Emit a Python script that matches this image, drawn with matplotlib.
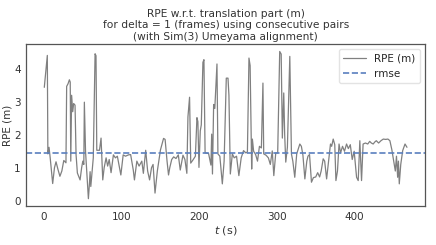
import numpy as np
import matplotlib
matplotlib.use("Agg")
import matplotlib.pyplot as plt
import seaborn as sns

# RPE trace
t_s = [0.4, 4.3, 5.0, 6.5, 8.0, 11.2, 13.5, 15.5, 18.0, 20.5, 23.0, 25.5, 28.3,
       29.2, 31.0, 32.7, 33.8, 34.5, 35.6, 37.0, 38.2, 40.0, 41.3, 43.0, 46.5,
       48.5, 50.0, 51.3, 52.0, 53.5, 55.0, 57.2, 58.5, 59.4, 60.3, 62.0, 63.5,
       65.8, 67.0, 68.0, 71.5, 73.5, 75.7, 77.5, 80.0, 82.0, 84.0, 86.4, 89.4,
       92.0, 94.5, 97.0, 99.0, 102.0, 105.0, 108.8, 111.6, 115.0, 116.5, 119.6,
       122.5, 126.0, 128.0, 131.0, 133.5, 136.0, 138.5, 140.5, 143.0, 146.0,
       150.0, 154.0, 156.0, 158.5, 160.4, 162.0, 164.5, 167.0, 170.0, 173.0,
       175.5, 179.0, 181.5, 184.0, 185.4, 187.5, 189.0, 192.0, 195.0, 197.0,
       198.2, 199.6, 201.3, 202.6, 204.7, 206.0, 207.5, 212.0, 215.0, 216.0,
       217.0, 218.5, 220.0, 222.8, 224.0, 226.5, 229.7, 232.0, 234.8, 237.0,
       238.2, 240.0, 242.6, 245.0, 248.0, 251.0, 254.0, 257.0, 260.0, 262.0,
       264.0, 265.5, 267.5, 268.4, 270.0, 272.6, 275.0, 277.5, 280.0, 282.0,
       283.0, 286.0, 289.0, 291.5, 294.0, 296.0, 298.5, 301.0, 303.6, 305.5,
       307.0, 308.8, 310.0, 311.4, 313.5, 316.6, 318.7, 320.5, 323.0, 325.5,
       329.5, 331.5, 333.5, 336.0, 338.5, 340.0, 342.0, 344.5, 347.0, 350.0,
       352.5, 355.0, 357.0, 359.6, 361.5, 364.0, 366.5, 369.0, 370.5, 372.5,
       374.5, 376.0, 378.0, 380.0, 382.0, 384.5, 387.0, 389.7, 392.0, 394.5,
       397.0, 399.5, 402.6, 404.7, 406.8, 409.0, 411.0, 414.0, 417.0, 419.5,
       421.6, 424.0, 426.0, 428.0, 431.0, 434.0, 437.0, 440.0, 443.0, 445.5,
       448.0, 450.0, 452.5, 454.0, 455.5, 456.5, 457.6, 459.5, 462.0, 465.0,
       467.5]
rpe = [3.44, 4.41, 1.42, 1.62, 1.3, 0.52, 1.0, 1.18, 0.95, 0.74, 0.9, 1.22, 1.15,
       3.47, 3.55, 3.67, 3.6, 1.2, 3.2, 2.7, 2.95, 2.9, 1.4, 0.84, 0.63,
       1.0, 1.2, 1.1, 2.99, 1.5, 0.9, 0.06, 0.5, 0.88, 0.43, 0.9, 1.3,
       4.46, 4.4, 1.53, 1.53, 1.9, 0.63, 1.0, 1.3, 1.05, 1.25, 0.85, 1.39,
       1.3, 1.35, 1.03, 0.78, 1.39, 1.35, 1.39, 1.4, 0.93, 0.63, 1.2,
       1.05, 1.2, 0.83, 1.53, 0.9, 0.63, 1.0, 1.1, 0.23, 0.9,
       1.54, 1.89, 1.86, 1.2, 0.78, 1.0, 1.25, 1.33, 1.28, 1.39,
       0.93, 1.38, 1.25, 0.83, 2.54, 3.14, 1.14, 1.24, 1.35, 2.52,
       2.4, 1.01, 2.12, 2.3, 4.2, 4.28, 1.45, 1.43, 1.08, 2.02,
       0.81, 2.92, 2.8, 4.15, 1.42, 1.35, 0.51, 1.2, 3.72, 3.72,
       3.2, 0.81, 1.42, 1.3, 1.35, 0.76, 1.3, 1.52, 1.45, 1.48,
       4.33, 4.1, 0.96, 1.87, 1.5, 1.4, 1.2, 1.65, 1.6, 3.57,
       1.42, 1.38, 1.3, 1.1, 1.51, 0.76, 1.45, 1.45, 4.53, 4.45,
       1.9, 3.27, 2.0, 1.17, 1.62, 4.38, 1.42, 1.2, 0.71, 1.42,
       1.72, 1.65, 1.38, 0.66, 1.2, 1.35, 1.4, 0.56, 0.7, 0.72,
       0.85, 0.72, 0.9, 1.27, 1.2, 0.66, 1.2, 1.72, 1.65, 1.87,
       1.7, 0.61, 0.9, 1.72, 1.45, 1.65, 1.5, 1.72, 1.58, 1.7,
       1.25, 1.5, 0.71, 0.61, 1.82, 0.61, 1.72, 1.75, 1.72, 1.8,
       1.75, 1.72, 1.78, 1.82, 1.75, 1.82, 1.87, 1.86, 1.87, 1.82,
       1.55, 1.27, 0.9, 1.35, 0.71, 1.2, 0.51, 1.1, 1.52, 1.72,
       1.62]
rmse = 1.455

sns.set_style("white")
plt.rcParams['font.family'] = ['DejaVu Sans']

fig = plt.figure(figsize=(4.36, 2.45), dpi=100)
ax = fig.add_axes([0.06, 0.159, 0.915, 0.661])

ax.plot(t_s, rpe, color="gray", lw=0.9, label="RPE (m)")
ax.axhline(rmse, color="#5a7fbf", ls="--", lw=1.2, label="rmse")

ax.set_yticks([0, 1, 2, 3, 4])
ax.set_xticks([0, 100, 200, 300, 400])
ax.tick_params(labelsize=7.5, colors="#333333", length=0, pad=4)
ax.set_xlabel("$t$ (s)", fontsize=8, color="#333333", labelpad=2)
ax.set_ylabel("RPE (m)", fontsize=7.5, color="#333333", labelpad=1)
ax.set_title("RPE w.r.t. translation part (m)\n"
             "for delta = 1 (frames) using consecutive pairs\n"
             "(with Sim(3) Umeyama alignment)", fontsize=7.7, color="#333333",
             linespacing=1.2, pad=3)
for sp in ax.spines.values():
    sp.set_color("#555555")
    sp.set_linewidth(0.9)

leg = ax.legend(loc="upper right", fontsize=7.5, frameon=True, handlelength=2.2)
leg.get_frame().set_edgecolor("#dddddd")

fig.savefig("out.png", dpi=100)
